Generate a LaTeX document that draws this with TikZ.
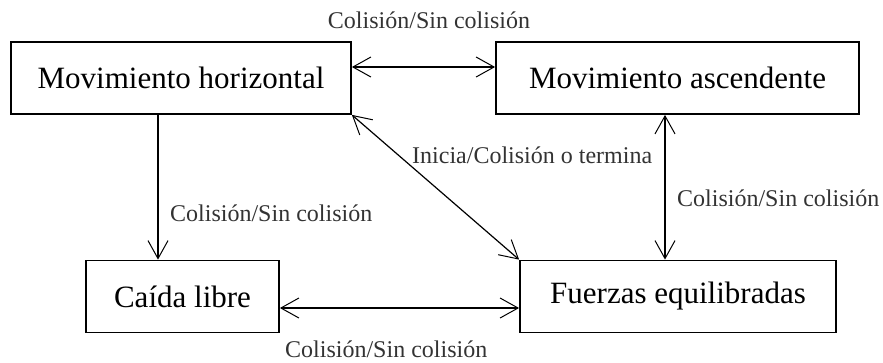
\documentclass[tikz,border=0pt]{standalone}
\usepackage{fontspec}
\setmainfont{Liberation Serif}
\usetikzlibrary{arrows.meta}
\begin{document}
\begin{tikzpicture}[x=1pt,y=-1pt,
  state/.style={draw=black, line width=1.8pt, inner sep=0pt, minimum height=72pt,
    font=\fontsize{31}{35}\selectfont},
  conn/.style={draw=black, line width=1.2pt},
  tip/.style={arrows={-Straight Barb[length=18pt,width=20pt,line width=1pt]}},
  bitip/.style={arrows={Straight Barb[length=18pt,width=20pt,line width=1pt]-Straight Barb[length=18pt,width=20pt,line width=1pt]}},
  lbl/.style={text=black!80, inner sep=0pt, font=\fontsize{24}{28}\selectfont}]
\useasboundingbox (0,0) rectangle (883,362);
\node[state, minimum width=340pt] (MH) at (181,78) {Movimiento horizontal};
\node[state, minimum width=363pt] (MA) at (677.5,78) {Movimiento ascendente};
\node[state, minimum width=193pt] (CL) at (182.5,296.5) {Caída libre};
\node[state, minimum width=316pt] (FE) at (678,296.5) {Fuerzas equilibradas};
\coordinate (xl) at (158,0);
\coordinate (xr) at (665,0);
\coordinate (yt) at (0,67);
\coordinate (yb) at (0,308);
\draw[conn,bitip] (MH.east |- yt) -- (MA.west |- yt);
\draw[conn,tip] (MH.south -| xl) -- (CL.north -| xl);
\draw[conn,bitip] (MA.south -| xr) -- (FE.north -| xr);
\draw[conn,bitip] (CL.east |- yb) -- (FE.west |- yb);
\draw[conn,bitip] (MH.south east) -- (FE.north west);
\node[lbl] (l1) at (429,20) {Colisión/Sin colisión};
\node[lbl, anchor=west] (l2) at (170,213) {Colisión/Sin colisión};
\node[lbl, anchor=west] (l3) at (677,198) {Colisión/Sin colisión};
\node[lbl, anchor=west] (l4) at (285,349) {Colisión/Sin colisión};
\node[lbl, anchor=west] (l5) at (412,155) {Inicia/Colisión o termina};
\end{tikzpicture}
\end{document}
